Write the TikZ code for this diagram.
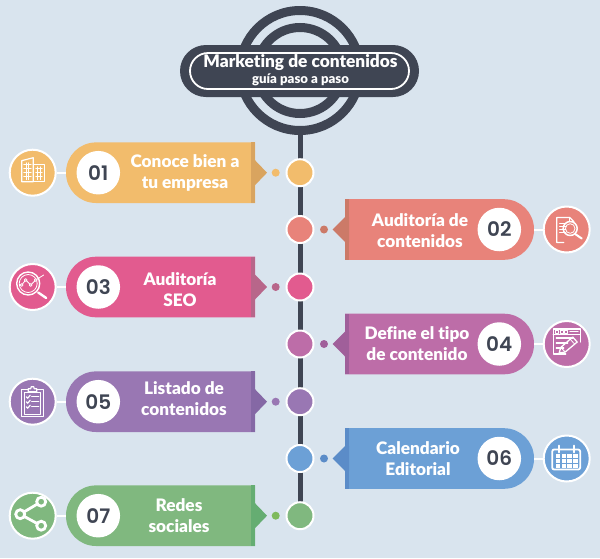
\documentclass[tikz,border=0pt]{standalone}
\usepackage{fontspec}
\setmainfont{Lato}[BoldFont={Lato Black},Ligatures=CommonOff]
\newfontfamily\numfont{Poppins SemiBold}
\usetikzlibrary{shapes.misc}
\definecolor{bgc}{HTML}{D9E4EE}
\definecolor{darkc}{HTML}{3F4553}
\definecolor{ca}{HTML}{F2BC6C}\definecolor{cad}{HTML}{D9A45F}
\definecolor{cb}{HTML}{E8837A}\definecolor{cbd}{HTML}{CC7A68}
\definecolor{cc}{HTML}{E25B8F}\definecolor{ccd}{HTML}{B8668A}
\definecolor{cd}{HTML}{BD6DA8}\definecolor{cdd}{HTML}{A05F9A}
\definecolor{ce}{HTML}{9977B3}\definecolor{ced}{HTML}{8568A5}
\definecolor{cf}{HTML}{6CA0D6}\definecolor{cfd}{HTML}{5B8CC8}
\definecolor{cg}{HTML}{80B87F}\definecolor{cgd}{HTML}{65AD72}\definecolor{cgs}{HTML}{7FBA5C}
\tikzset{
  stopdot/.style={circle,draw=white,line width=2pt,minimum size=27pt,inner sep=0pt},
  icondisc/.style={circle,draw=white,line width=2pt,minimum size=46pt,inner sep=0pt},
  numdisc/.style={circle,fill=white,minimum size=43.5pt,inner sep=0pt,text=darkc,font=\numfont\fontsize{20}{24}\selectfont},
  smalldot/.style={circle,minimum size=8pt,inner sep=0pt},
  tabtext/.style={align=center,text=white,font=\bfseries\fontsize{17.2}{21}\selectfont},
  link/.style={draw=white,line width=2pt},
  ico/.style={draw=white,line width=1.2pt,line cap=round,line join=round},
  icob/.style={draw=white,line width=2pt,line cap=round,line join=round},
}
% #1 y, #2 colour, #3 dark, #4 dot colour, #5 number, #6 text x, #7 text y, #8 text, #9 icon
\newcommand{\leftrow}[9]{
  \node[stopdot,fill=#2] (stop#5) at (300,#1) {};
  \node[smalldot,fill=#4] (dot#5) at (275.7,#1) {};
  \fill[#2] (255,#1-30.3) [rounded corners=30pt] -- (66,#1-30.3) -- (66,#1+30.3) [sharp corners] -- (255,#1+30.3) -- cycle;
  \fill[#3] (251,#1-30.3) rectangle (255,#1+30.3);
  \fill[#3] (251,#1-12.5) -- (255,#1-12.5) -- (267,#1) -- (255,#1+12.5) -- (251,#1+12.5) -- cycle;
  \coordinate (edge#5) at (66,#1);
  \node[icondisc,fill=#2] (icon#5) at (32.7,#1) {};
  \draw[link] (icon#5) -- (edge#5);
  \node[numdisc] (num#5) at (98.3,#1) {#5};
  \node[tabtext] (label#5) at (#6,#7) {#8};
  \begin{scope}[shift={(32.7,#1)}]#9\end{scope}
}
\newcommand{\rightrow}[9]{
  \node[stopdot,fill=#2] (stop#5) at (300,#1) {};
  \node[smalldot,fill=#4] (dot#5) at (324,#1) {};
  \fill[#2] (345,#1-30.3) [rounded corners=30pt] -- (534,#1-30.3) -- (534,#1+30.3) [sharp corners] -- (345,#1+30.3) -- cycle;
  \fill[#3] (345,#1-30.3) rectangle (349,#1+30.3);
  \fill[#3] (349,#1-12.5) -- (345,#1-12.5) -- (332.7,#1) -- (345,#1+12.5) -- (349,#1+12.5) -- cycle;
  \coordinate (edge#5) at (534,#1);
  \node[icondisc,fill=#2] (icon#5) at (566.7,#1) {};
  \draw[link] (icon#5) -- (edge#5);
  \node[numdisc] (num#5) at (499.3,#1) {#5};
  \node[tabtext] (label#5) at (#6,#7) {#8};
  \begin{scope}[shift={(566.7,#1)}]#9\end{scope}
}
\begin{document}
\begin{tikzpicture}[x=1pt,y=-1pt]
\useasboundingbox[fill=bgc] (0,0) rectangle (600,558);
% logo
\node[circle,draw=darkc,line width=9pt,minimum size=120pt,inner sep=0pt] (ringouter) at (300,70.5) {};
\node[circle,draw=darkc,line width=9pt,minimum size=86pt,inner sep=0pt] (ringinner) at (300,70.5) {};
\coordinate (railend) at (300,515.7);
\draw[darkc,line width=5pt] (ringouter.south) -- (railend);
\node[rounded rectangle,fill=darkc,minimum width=239pt,minimum height=52pt,inner sep=0pt] (banner) at (299.5,71) {};
\node[rounded rectangle,draw=white,line width=1.8pt,minimum width=219pt,minimum height=36pt,inner sep=0pt] (bannerline) at (299.5,71) {};
\node[text=white,font=\bfseries\fontsize{17.3}{20}\selectfont] (title) at (300.5,63) {Marketing de contenidos};
\node[text=white,font=\bfseries\fontsize{13.2}{14}\selectfont] (subtitle) at (300.5,79.5) {guía paso a paso};
% rows
\leftrow{172.7}{ca}{cad}{ca}{01}{185}{172.5}{Conoce bien a\\tu empresa}{
  \draw[ico] (-11,9) -- (-11,-12) -- (0.5,-15) -- (0.5,9) -- cycle;
  \draw[ico] (0.5,-8) -- (11.5,-8) -- (11.5,9) -- (0.5,9);
  \foreach \yy in {-8,-4,0,4} {\draw[ico,line width=.8pt] (-9,\yy) -- (-1.5,\yy);}
  \foreach \yy in {-4,0,4} {\draw[ico,line width=.8pt] (3,\yy) -- (9.5,\yy);}
  \foreach \xx in {-6.5,-4} {\draw[ico,line width=.6pt] (\xx,-10) -- (\xx,7);}
  \foreach \xx in {5,7.5} {\draw[ico,line width=.6pt] (\xx,-6) -- (\xx,7);}
}
\rightrow{229.5}{cb}{cbd}{cbd}{02}{420}{231}{Auditoría de\\contenidos}{
  \draw[ico] (-3,13) -- (-10,13) -- (-10,-12) -- (3,-12) -- (7,-8) -- (7,-7);
  \draw[ico] (3,-12) -- (3,-8) -- (7,-8);
  \foreach \yy in {-6,-3,0,3} {\draw[icob,line width=1.2pt] (-7,\yy) -- (-1,\yy);}
  \draw[ico,line width=1.5pt] (3.5,-1) circle (7);
  \draw[ico,line width=.8pt] (3.5,-1) circle (4.8);
  \draw[icob] (8.5,4.5) -- (15,9);
}
\leftrow{287}{cc}{ccd}{ccd}{03}{180}{290}{Auditoría\\SEO}{
  \draw[ico,line width=1.4pt] (-4.5,-3.5) circle (11.5);
  \draw[ico,line width=.8pt] (-4.5,-3.5) circle (9);
  \draw[ico,line width=.8pt] (-11,-2) -- (-7,-7) -- (-2,-2) -- (3,-7) -- (11,-12);
  \foreach \xx/\yy in {-11/-2,-7/-7,-2/-2,3/-7} {\draw[ico,line width=.8pt,fill=cc] (\xx,\yy) circle (1.4);}
  \draw[icob,line width=2.4pt] (5.5,5.5) -- (13.5,11);
}
\rightrow{344}{cd}{cdd}{cdd}{04}{417}{343.5}{Define el tipo\\de contenido}{
  \draw[ico] (-1,10) -- (-13.5,10) -- (-13.5,-15) -- (13.5,-15) -- (13.5,-2);
  \draw[ico] (-13.5,-9.5) -- (13.5,-9.5);
  \foreach \xx in {-11,-6.5,-2} {\draw[ico,line width=.8pt] (\xx,-13.5) rectangle (\xx+3,-11);}
  \draw[ico,line width=.8pt] (3,-12.5) -- (11.5,-12.5);
  \draw[ico] (-10.5,-6) -- (6,-6);
  \draw[ico] (-10.5,-1) -- (1,-1);
  \draw[ico] (-10.5,4) -- (-3,4);
  \draw[ico,line width=1.3pt] (-7.5,9) -- (-6,3.5) -- (6,-7) -- (10.5,-2) -- (-1.5,8) -- cycle;
  \draw[ico,line width=.8pt] (-6,3.5) -- (-1.5,8);
  \draw[ico,line width=.8pt] (3.5,-4.8) -- (8,0.2);
}
\leftrow{401.7}{ce}{ced}{ce}{05}{184}{399}{Listado de\\contenidos}{
  \draw[ico,line width=1.4pt] (-11,-12) rectangle (10.5,15);
  \draw[ico,line width=.7pt] (-8.5,-9.5) rectangle (8,12.5);
  \draw[ico,fill=ce] (-4.5,-11) -- (-4.5,-13) -- (-2,-13) -- (-1.5,-15) -- (1,-15) -- (1.5,-13) -- (4,-13) -- (4,-10) -- (-4.5,-10) -- cycle;
  \foreach \yy in {-5,0,5} {
    \draw[ico] (-6.5,\yy) -- (-5,\yy+1.5) -- (-2.5,\yy-1.5);
    \draw[ico] (-1,\yy) -- (6,\yy);
  }
}
\rightrow{458.5}{cf}{cfd}{cfd}{06}{418}{458.5}{Calendario\\Editorial}{
  \draw[icob,line width=1.8pt,rounded corners=2pt] (-14.5,-9) rectangle (13.5,11);
  \foreach \xx in {-8,7} {\draw[icob,line width=1.8pt] (\xx,-13) -- (\xx,-6);}
  \foreach \cx in {-11,-5.2,.6,6.4} {\foreach \cy in {-4.5,.5,5.5} {\fill[white] (\cx,\cy) rectangle (\cx+4.6,\cy+4);}}
}
\leftrow{515.7}{cg}{cgd}{cgs}{07}{179}{516}{Redes\\sociales}{
  \draw[draw=white,line width=2.8pt] (-12.5,-1.5) -- (8.5,-14);
  \draw[draw=white,line width=2.8pt] (-12.5,-1.5) -- (8.5,10);
  \draw[draw=white,line width=2.8pt,fill=cg] (8.5,-14) circle (4.5);
  \draw[draw=white,line width=2.8pt,fill=cg] (-12.5,-1.5) circle (4.5);
  \draw[draw=white,line width=2.8pt,fill=cg] (8.5,10) circle (4.5);
}
\end{tikzpicture}
\end{document}
